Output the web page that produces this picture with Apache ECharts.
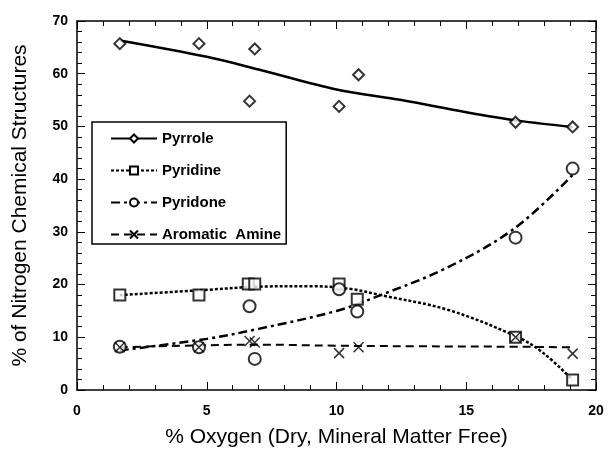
<!DOCTYPE html>
<html>
<head>
<meta charset="utf-8">
<script src="https://cdn.jsdelivr.net/npm/echarts@6/dist/echarts.min.js"></script>
<style>
  html, body { margin: 0; padding: 0; background: #fff; }
  #chart { width: 608px; height: 449px; }
</style>
</head>
<body>
<div id="chart"></div>
<script>
// measured points
const pyrroleX = [1.65, 4.7, 6.65, 6.85, 10.1, 10.85, 16.9, 19.1];
const pyrrole = [65.7, 65.7, 54.8, 64.7, 53.8, 59.8, 50.8, 49.9];
const pyridineX = [1.65, 4.7, 6.6, 6.85, 10.1, 10.8, 16.9, 19.1];
const pyridine = [18.0, 18.0, 20.1, 20.1, 20.1, 17.2, 10.0, 1.9];
const pyridoneX = [1.65, 4.7, 6.65, 6.85, 10.1, 10.8, 16.9, 19.1];
const pyridone = [8.2, 8.1, 15.9, 5.9, 19.1, 14.9, 28.9, 42.0];
const amineX = [1.65, 4.7, 6.65, 6.85, 10.1, 10.85, 16.9, 19.1];
const amine = [8.1, 8.1, 9.3, 9.0, 7.0, 8.1, 10.0, 6.9];

// fitted curves
const pyrroleFitX = [1.65, 5, 7, 10, 12.5, 15, 17, 19.1];
const pyrroleFit = [66.3, 63.2, 60.8, 57.0, 55.0, 52.7, 51.1, 49.9];
const pyridineFitX = [1.65, 5, 7, 9, 10.5, 11.7, 14.3, 17, 18, 19.1];
const pyridineFit = [18.0, 19.0, 19.6, 19.7, 19.2, 18.0, 15.2, 10.0, 6.9, 1.9];
const pyridoneFitX = [1.65, 5, 7, 10, 11.7, 14.3, 16.9, 19.1];
const pyridoneFit = [7.5, 9.7, 11.6, 15.0, 18.0, 23.3, 30.8, 40.8];
const amineFitX = [1.65, 4, 7, 10, 13, 17, 19.1];
const amineFit = [8.1, 8.4, 8.6, 8.4, 8.3, 8.2, 8.1];

const names = ['Pyrrole', 'Pyridine', 'Pyridone', 'Aromatic  Amine'];

function pairs(xs, ys) {
  return xs.map((x, i) => [x, ys[i]]);
}

const xMark = 'path://M0,0L10,10M10,0L0,10';
const font = '"Liberation Sans", Arial, sans-serif';

function fitSeries(name, xs, ys, symbol, dash, width) {
  return {
    name: name,
    type: 'line',
    data: pairs(xs, ys),
    smooth: 0.35,
    symbol: symbol,
    symbolSize: 10,
    showSymbol: false,
    itemStyle: { color: '#000', borderColor: '#000', borderWidth: 1.5 },
    lineStyle: { color: '#000', width: width, type: dash },
    z: 2
  };
}

function pointSeries(name, xs, ys, symbol, size) {
  return {
    name: name,
    type: 'scatter',
    data: pairs(xs, ys),
    symbol: symbol,
    symbolSize: size,
    itemStyle: { color: '#000', borderColor: '#000', borderWidth: 1.5 },
    z: 3
  };
}

function edgeAxis(extra) {
  return Object.assign({
    type: 'value',
    axisLine: { onZero: false, lineStyle: { color: '#000', width: 1.5 } },
    axisTick: { inside: true, length: 8, lineStyle: { color: '#000' } },
    minorTick: { show: true, splitNumber: 5, length: 5, lineStyle: { color: '#000' } },
    splitLine: { show: false }
  }, extra);
}

let myChart = echarts.init(document.getElementById('chart'), null, { renderer: 'canvas' });

let option = {
  backgroundColor: '#fff',
  animation: false,
  textStyle: { fontFamily: font },
  grid: { left: 77, right: 12, top: 21, bottom: 59, outerBoundsMode: 'none', containLabel: false },
  legend: {
    orient: 'vertical',
    left: 92,
    top: 122,
    padding: [9, 5, 2, 18],
    itemWidth: 46,
    itemHeight: 10,
    itemGap: 17,
    borderColor: '#000',
    borderWidth: 1.5,
    backgroundColor: '#fff',
    data: names,
    textStyle: { color: '#000', fontSize: 15, fontWeight: 'bold', fontFamily: font }
  },
  xAxis: [
    edgeAxis({
      min: 0, max: 20, interval: 5,
      name: '% Oxygen (Dry, Mineral Matter Free)',
      nameLocation: 'middle', nameGap: 37,
      nameTextStyle: { fontSize: 21, color: '#000', fontFamily: font },
      axisLabel: { color: '#000', fontSize: 14, fontWeight: 'bold', margin: 14, fontFamily: font }
    }),
    edgeAxis({ min: 0, max: 20, interval: 5, position: 'top', axisLabel: { show: false } })
  ],
  yAxis: [
    edgeAxis({
      min: 0, max: 70, interval: 10,
      name: '% of Nitrogen Chemical Structures',
      nameLocation: 'middle', nameGap: 46,
      nameTextStyle: { fontSize: 21, color: '#000', fontFamily: font },
      axisLabel: { color: '#000', fontSize: 14, fontWeight: 'bold', margin: 9, fontFamily: font }
    }),
    edgeAxis({ min: 0, max: 70, interval: 10, position: 'right', axisLabel: { show: false } })
  ],
  series: [
    fitSeries(names[0], pyrroleFitX, pyrroleFit, 'emptyDiamond', 'solid', 2.5),
    fitSeries(names[1], pyridineFitX, pyridineFit, 'emptyRect', [3, 2], 2.5),
    fitSeries(names[2], pyridoneFitX, pyridoneFit, 'emptyCircle', [9, 4, 3, 4], 2.5),
    fitSeries(names[3], amineFitX, amineFit, xMark, [8, 5], 2),
    pointSeries(names[0], pyrroleX, pyrrole, 'emptyDiamond', 11),
    pointSeries(names[1], pyridineX, pyridine, 'emptyRect', 11),
    pointSeries(names[2], pyridoneX, pyridone, 'emptyCircle', 12),
    pointSeries(names[3], amineX, amine, xMark, 10)
  ]
};

myChart.setOption(option);
</script>
</body>
</html>
